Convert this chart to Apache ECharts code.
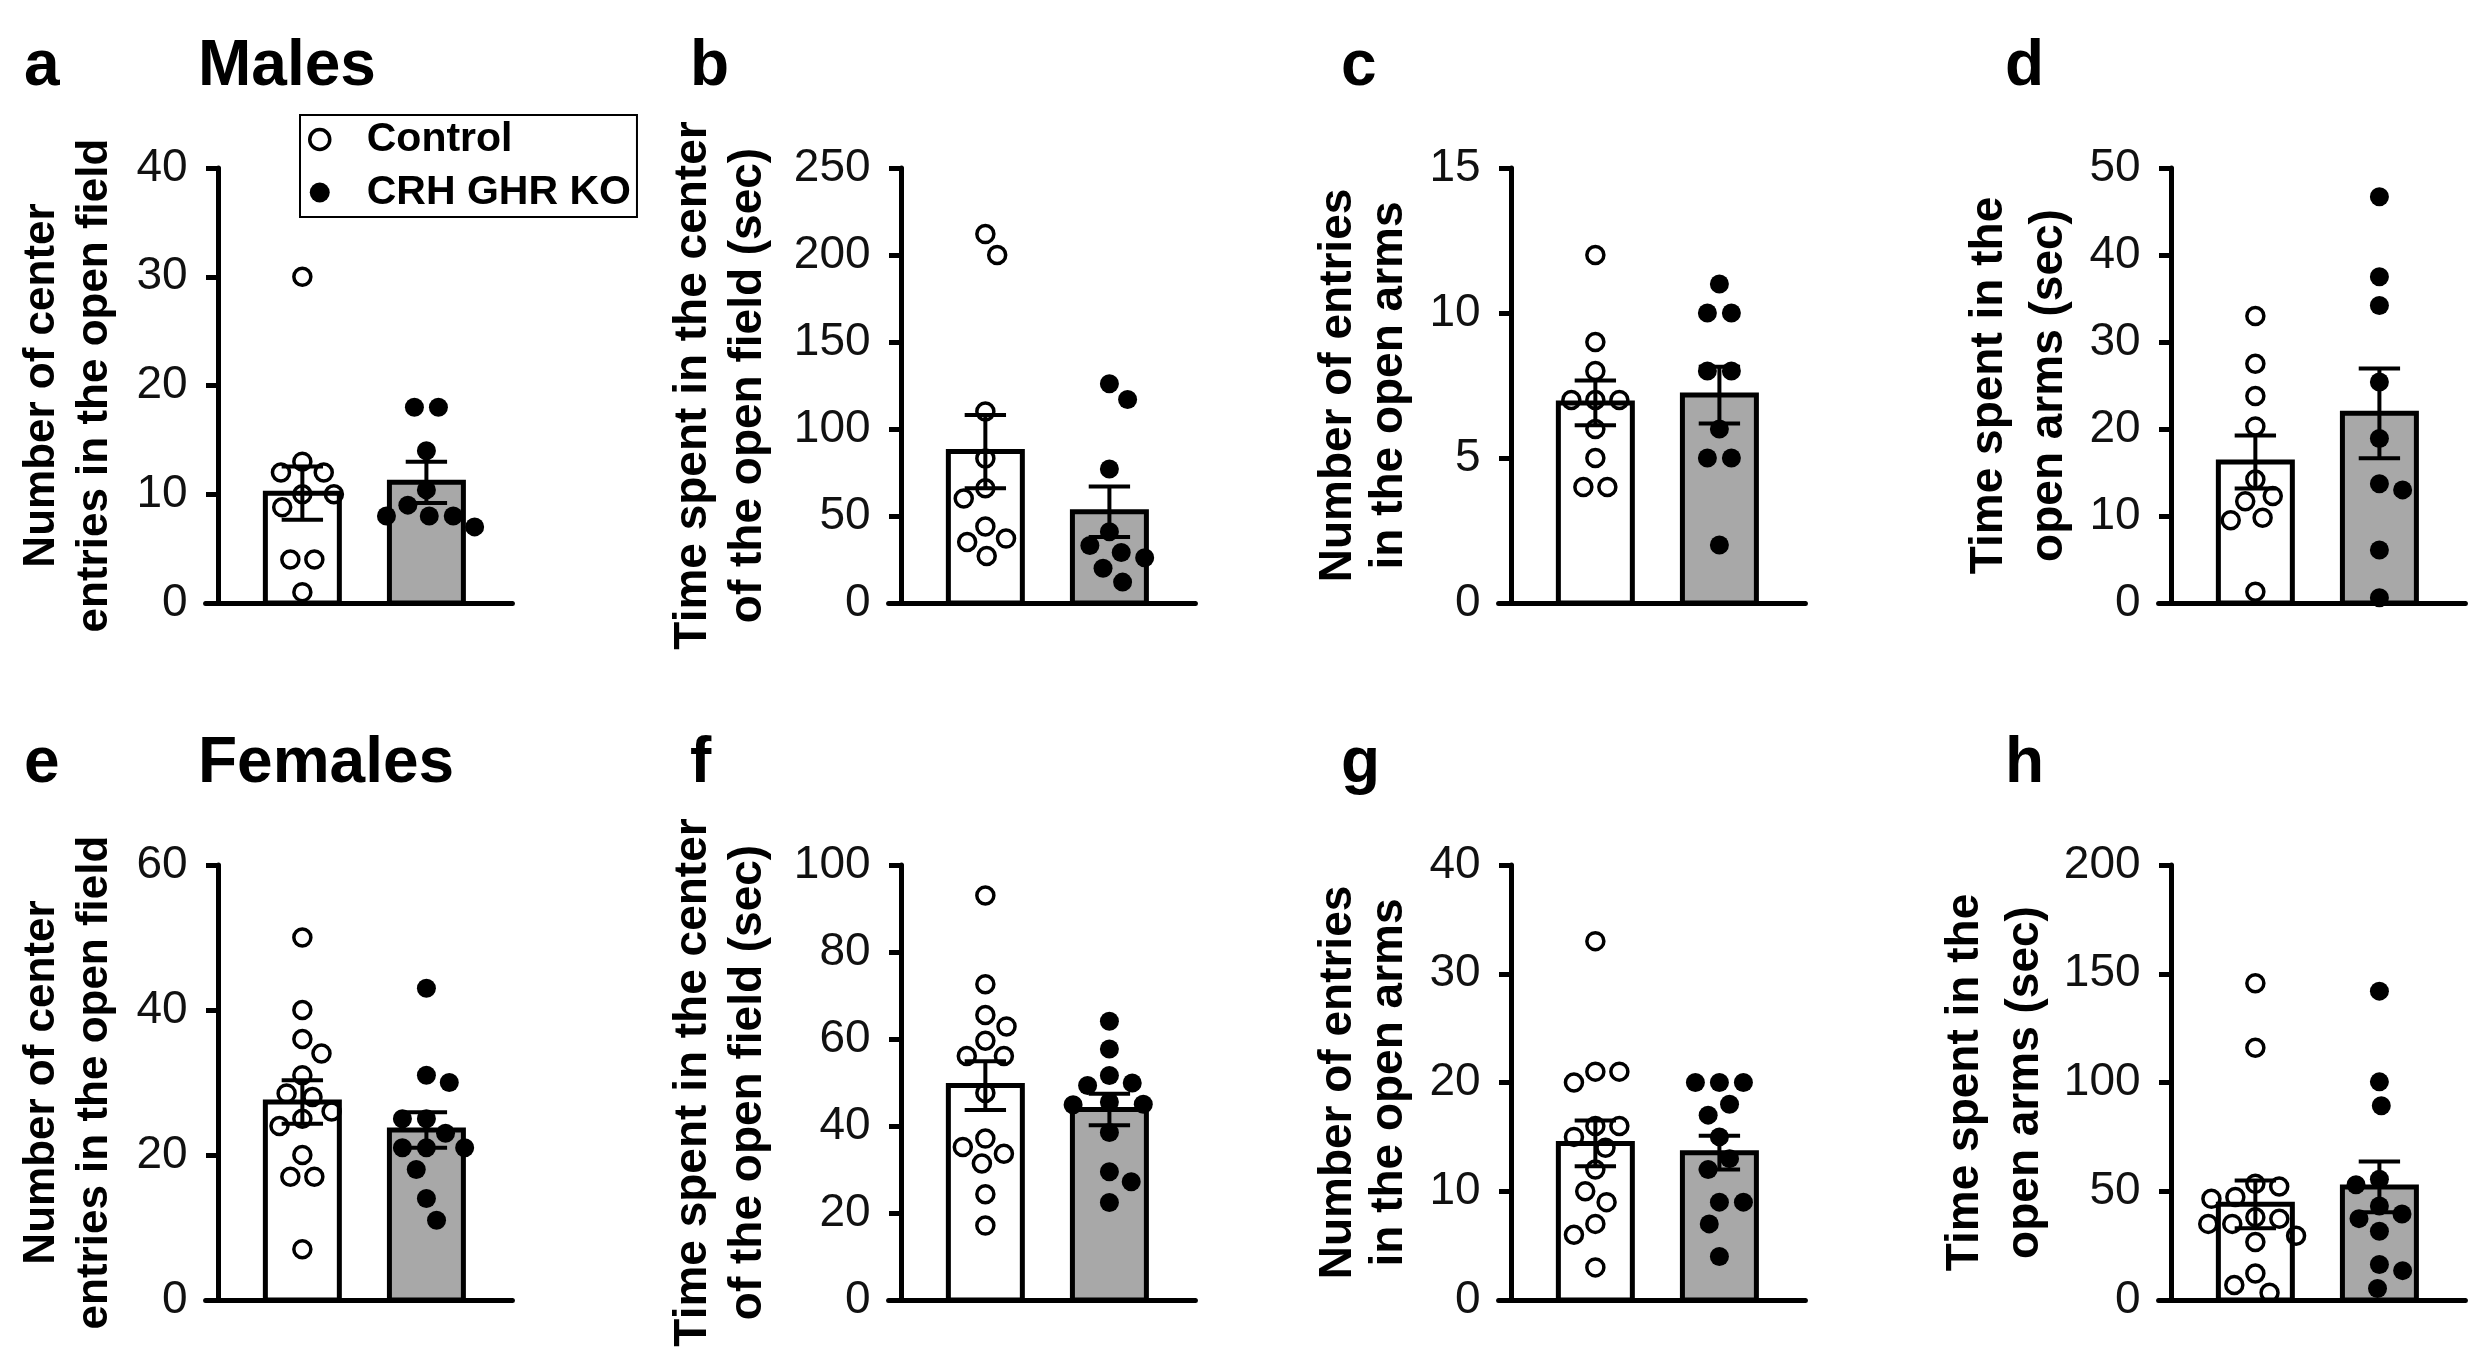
<!DOCTYPE html>
<html>
<head>
<meta charset="utf-8"/>
<script src="https://cdn.jsdelivr.net/npm/echarts@6/dist/echarts.min.js"></script>
<style>
  html, body { margin: 0; padding: 0; background: #fff; }
  #main { width: 2490px; height: 1364px; }
</style>
</head>
<body>
<div id="main"></div>
<script>
// ---- data ----
var letters = ['a', 'b', 'c', 'd', 'e', 'f', 'g', 'h'];
var yTitles = [
  'Number of center\nentries in the open field',
  'Time spent in the center\nof the open field (sec)',
  'Number of entries\nin the open arms',
  'Time spent in the\nopen arms (sec)',
  'Number of center\nentries in the open field',
  'Time spent in the center\nof the open field (sec)',
  'Number of entries\nin the open arms',
  'Time spent in the\nopen arms (sec)'
];
var yMax  = [40, 250, 15, 50, 60, 100, 40, 200];
var yStep = [10, 50, 5, 10, 20, 20, 10, 50];

var ctrlMean = [10.1, 87, 6.9, 16.2, 27.3, 49.3, 14.4, 44];
var ctrlSem  = [2.45, 21, 0.77, 3.05, 3.0, 5.6, 2.1, 11];
var koMean   = [11.1, 52.5, 7.17, 21.8, 23.45, 43.8, 13.55, 52];
var koSem    = [1.9, 14.5, 0.98, 5.15, 2.45, 3.6, 1.55, 11.7];

var ctrlPts = [
  [30, 13, 12, 12, 10, 10, 8.8, 4, 4, 1],
  [212, 200, 110, 83, 66, 60, 44, 37, 35, 27],
  [12, 9, 8, 7, 7, 7, 6, 5, 4, 4],
  [33, 27.5, 23.8, 20.3, 14.2, 12.3, 11.7, 9.8, 9.5, 1.3],
  [50, 40, 36, 34, 31, 28.5, 28, 26, 25, 24, 20, 17, 17, 7],
  [93, 72.6, 65.5, 62.9, 59.6, 56.1, 56.1, 47.6, 37.1, 35.2, 33.6, 31.4, 24.3, 17.1],
  [33, 21, 21, 20, 16, 16, 15, 14, 12, 10, 9, 7, 6, 3],
  [145.6, 116, 53.4, 52.2, 47.3, 46.5, 38, 37.4, 35, 35, 29.5, 26.7, 12.2, 6.9, 3.3]
];
var koPts = [
  [18, 18, 14, 10.4, 9, 8, 8, 8, 7],
  [126, 117, 77, 41, 33, 29, 26, 20, 12],
  [11, 10, 10, 8, 8, 6, 5, 5, 2],
  [46.7, 37.5, 34.2, 25.4, 18.9, 13.7, 13, 6.1, 0.6],
  [43, 31, 30, 25, 25, 23, 21, 21, 21, 18, 14, 11],
  [64.1, 57.7, 51.6, 49.9, 49.3, 45.5, 45, 44.9, 38.5, 29.5, 27.2, 22.4],
  [20, 20, 20, 18, 17, 15, 13, 12, 9, 9, 7, 4],
  [142, 100.3, 89.3, 55.5, 53, 43.2, 39.5, 37.4, 31.6, 16.3, 13.5, 5.3]
];

// ---- layout ----
var axisX   = [218, 901, 1511, 2171, 218, 901, 1511, 2171];
var PPU     = 82.7;                       // px per x unit
var rowTop  = [168, 865];
var rowZero = [603, 1300];
var nameGap = [84, 113, 84, 79, 84, 113, 84, 103];
var nameLH  = [53, 55, 51, 60, 53, 55, 51, 60];
var nameFS  = [44, 46, 46, 46, 44, 46, 46, 46];
var letterX = [24, 690, 1341, 2005, 24, 690, 1341, 2005];
var xMin = -0.15, xMax = 3.56, ctrlX = 1.02, koX = 2.52;
var FONT = 'Liberation Sans, Arial, sans-serif';

// beeswarm: spread points sideways so they do not overlap (pixel space)
function swarm(vals, pxY, D) {
  var order = vals.map(function (v, i) { return i; })
    .sort(function (a, b) { return vals[b] - vals[a]; });
  var placed = [], off = new Array(vals.length), side = 1;
  order.forEach(function (i) {
    var y = vals[i] * pxY, blocks = [];
    placed.forEach(function (p) {
      var dy = Math.abs(p.y - y);
      if (dy < D) {
        var w = Math.sqrt(D * D - dy * dy);
        blocks.push([p.x - w, p.x + w]);
      }
    });
    var cands = [0];
    blocks.forEach(function (b) { cands.push(b[0], b[1]); });
    var free = cands.filter(function (c) {
      return blocks.every(function (b) { return c <= b[0] + 1e-6 || c >= b[1] - 1e-6; });
    });
    free.sort(function (a, b) { return (Math.abs(a) - Math.abs(b)) || (b - a) * side; });
    var x = free[0];
    if (Math.abs(x) > 1e-6) side = -side;
    off[i] = x;
    placed.push({ y: y, x: x, i: i });
  });
  // centre groups of equal values when nothing gets in the way
  var done = {};
  placed.forEach(function (p) {
    if (done[p.i]) return;
    var grp = placed.filter(function (q) { return Math.abs(q.y - p.y) < 0.5; });
    grp.forEach(function (q) { done[q.i] = true; });
    if (grp.length < 2) return;
    var m = grp.reduce(function (s, q) { return s + q.x; }, 0) / grp.length;
    var ok = grp.every(function (q) {
      return placed.every(function (r) {
        if (grp.indexOf(r) >= 0) return true;
        var dx = q.x - m - r.x, dy = q.y - r.y;
        return dx * dx + dy * dy >= D * D * 0.98;
      });
    });
    if (ok) grp.forEach(function (q) { q.x -= m; off[q.i] = q.x; });
  });
  return off;
}

function renderBar(params, api) {
  var x = api.value(0), m = api.value(1), s = api.value(2);
  var fill = api.value(3) ? '#a8a8a8' : '#ffffff';
  var base = api.coord([x, 0]), top = api.coord([x, m]);
  var hi = api.coord([x, m + s]), lo = api.coord([x, m - s]);
  var w = api.size([0.955, 0])[0] - 5;
  var cap = api.size([0.5, 0])[0];
  var ls = { stroke: '#000', lineWidth: 4 };
  return {
    type: 'group',
    children: [
      { type: 'rect', shape: { x: top[0] - w / 2, y: top[1], width: w, height: base[1] - top[1] },
        style: { fill: fill, stroke: '#000', lineWidth: 5 } },
      { type: 'line', shape: { x1: hi[0], y1: hi[1], x2: lo[0], y2: lo[1] }, style: ls },
      { type: 'line', shape: { x1: hi[0] - cap / 2, y1: hi[1], x2: hi[0] + cap / 2, y2: hi[1] }, style: ls },
      { type: 'line', shape: { x1: lo[0] - cap / 2, y1: lo[1], x2: lo[0] + cap / 2, y2: lo[1] }, style: ls }
    ]
  };
}

var grids = [], xAxes = [], yAxes = [], series = [], titles = [];

letters.forEach(function (L, i) {
  var row = i < 4 ? 0 : 1;
  var top = rowTop[row], h = rowZero[row] - rowTop[row];
  grids.push({ left: axisX[i] + xMin * PPU, top: top, width: (xMax - xMin) * PPU, height: h });
  xAxes.push({
    gridIndex: i, type: 'value', min: xMin, max: xMax,
    axisLine: { onZero: true, lineStyle: { color: '#000', width: 5 } },
    axisTick: { show: false }, axisLabel: { show: false }, splitLine: { show: false }
  });
  yAxes.push({
    gridIndex: i, type: 'value', min: 0, max: yMax[i], interval: yStep[i],
    name: yTitles[i], nameLocation: 'middle', nameRotate: 90, nameGap: nameGap[i],
    nameTextStyle: { fontFamily: FONT, fontSize: nameFS[i], fontWeight: 'bold', color: '#000',
      lineHeight: nameLH[i], align: 'center' },
    axisLine: { show: true, onZero: true, lineStyle: { color: '#000', width: 5 } },
    axisTick: { show: true, length: 12, lineStyle: { color: '#000', width: 5 } },
    axisLabel: { fontFamily: FONT, fontSize: 46, color: '#111', margin: 18 },
    splitLine: { show: false }
  });

  series.push({
    type: 'custom', xAxisIndex: i, yAxisIndex: i, renderItem: renderBar, z: 2,
    silent: true,
    data: [[ctrlX, ctrlMean[i], ctrlSem[i], 0], [koX, koMean[i], koSem[i], 1]]
  });

  var pxY = h / yMax[i], D = 24;
  var offC = swarm(ctrlPts[i], pxY, D), offK = swarm(koPts[i], pxY, D);
  series.push({
    name: 'Control', type: 'scatter', xAxisIndex: i, yAxisIndex: i, z: 3,
    symbol: 'circle', symbolSize: 17,
    itemStyle: { color: 'rgba(0,0,0,0)', borderColor: '#000', borderWidth: 3.5, opacity: 1 },
    data: ctrlPts[i].map(function (v, k) { return [ctrlX + offC[k] / PPU, v]; })
  });
  series.push({
    name: 'CRH GHR KO', type: 'scatter', xAxisIndex: i, yAxisIndex: i, z: 3,
    symbol: 'circle', symbolSize: 19,
    itemStyle: { color: '#000', opacity: 1 },
    data: koPts[i].map(function (v, k) { return [koX + offK[k] / PPU, v]; })
  });

  titles.push({
    text: L, left: letterX[i], top: row === 0 ? 35 : 732, padding: 0,
    textStyle: { fontFamily: FONT, fontSize: 64, fontWeight: 'bold', color: '#000', lineHeight: 64 }
  });
});

titles.push({
  text: 'Males', left: 198, top: 35, padding: 0,
  textStyle: { fontFamily: FONT, fontSize: 64, fontWeight: 'bold', color: '#000', lineHeight: 64 }
});
titles.push({
  text: 'Females', left: 198, top: 732, padding: 0,
  textStyle: { fontFamily: FONT, fontSize: 64, fontWeight: 'bold', color: '#000', lineHeight: 64 }
});

var chart = echarts.init(document.getElementById('main'));
chart.setOption({
  backgroundColor: '#fff',
  animation: false,
  title: titles,
  legend: {
    orient: 'vertical', left: 300, top: 115,
    selectedMode: false,
    itemWidth: 20, itemHeight: 20, itemGap: 12,
    padding: [4, 6, 4, 8],
    borderColor: '#000', borderWidth: 2, borderRadius: 0,
    textStyle: { fontFamily: FONT, fontSize: 41, fontWeight: 'bold', color: '#000',
      lineHeight: 40, padding: [0, 0, 0, 32] },
    data: [
      { name: 'Control', icon: 'circle',
        itemStyle: { color: 'rgba(0,0,0,0)', borderColor: '#000', borderWidth: 3.5 } },
      { name: 'CRH GHR KO', icon: 'circle', itemStyle: { color: '#000' } }
    ]
  },
  grid: grids,
  xAxis: xAxes,
  yAxis: yAxes,
  series: series
});
</script>
</body>
</html>
